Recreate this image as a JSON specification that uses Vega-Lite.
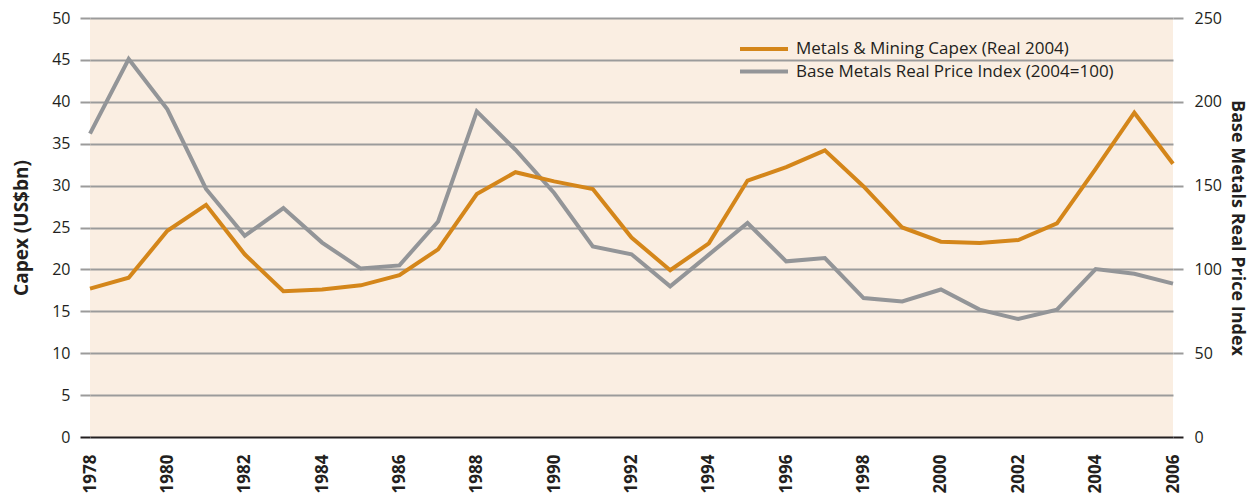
{
  "$schema": "https://vega.github.io/schema/vega-lite/v6.json",
  "width": 1083,
  "height": 419,
  "autosize": {"type": "none"},
  "padding": {"left": 90, "top": 18, "right": 77, "bottom": 59},
  "background": "white",
  "config": {
    "view": {"fill": "#faeee2", "stroke": null},
    "font": "Open Sans",
    "axis": {"labelColor": "#231f20", "titleColor": "#231f20", "labelFont": "Open Sans", "titleFont": "Open Sans"}
  },
  "data": {
    "values": [
      {"year": 1978, "capex": 17.7, "index": 181},
      {"year": 1979, "capex": 19.0, "index": 225.5},
      {"year": 1980, "capex": 24.6, "index": 195.5},
      {"year": 1981, "capex": 27.7, "index": 148},
      {"year": 1982, "capex": 21.8, "index": 120},
      {"year": 1983, "capex": 17.4, "index": 136.6},
      {"year": 1984, "capex": 17.6, "index": 116},
      {"year": 1985, "capex": 18.1, "index": 100.5},
      {"year": 1986, "capex": 19.3, "index": 102.4},
      {"year": 1987, "capex": 22.4, "index": 128.6},
      {"year": 1988, "capex": 29.0, "index": 194.3},
      {"year": 1989, "capex": 31.6, "index": 171.4},
      {"year": 1990, "capex": 30.5, "index": 145.6},
      {"year": 1991, "capex": 29.6, "index": 113.7},
      {"year": 1992, "capex": 23.8, "index": 109},
      {"year": 1993, "capex": 19.9, "index": 89.9},
      {"year": 1994, "capex": 23.1, "index": 108.8},
      {"year": 1995, "capex": 30.6, "index": 127.7},
      {"year": 1996, "capex": 32.2, "index": 104.8},
      {"year": 1997, "capex": 34.2, "index": 106.8},
      {"year": 1998, "capex": 29.9, "index": 82.9},
      {"year": 1999, "capex": 25.0, "index": 80.9},
      {"year": 2000, "capex": 23.3, "index": 88},
      {"year": 2001, "capex": 23.15, "index": 76},
      {"year": 2002, "capex": 23.5, "index": 70.4},
      {"year": 2003, "capex": 25.5, "index": 76},
      {"year": 2004, "capex": 32.0, "index": 100.2},
      {"year": 2005, "capex": 38.7, "index": 97.4},
      {"year": 2006, "capex": 32.6, "index": 91.5}
    ]
  },
  "layer": [
    {
      "mark": {"type": "line", "strokeWidth": 4},
      "encoding": {
        "x": {
          "field": "year", "type": "quantitative",
          "scale": {"domain": [1978, 2006], "nice": false, "zero": false},
          "axis": {
            "title": null, "values": [1978,1980,1982,1984,1986,1988,1990,1992,1994,1996,1998,2000,2002,2004,2006],
            "format": "d", "labelAngle": -90, "labelAlign": "right", "labelBaseline": "middle",
            "labelFontWeight": "bold", "labelFontSize": 17, "ticks": false, "tickSize": 0,
            "labelPadding": 17, "domain": false, "grid": false
          }
        },
        "y": {
          "field": "index", "type": "quantitative",
          "scale": {"domain": [0, 250], "nice": false},
          "axis": {
            "orient": "right", "title": "Base Metals Real Price Index", "titleFontSize": 18, "titleFontWeight": "bold",
            "values": [0, 50, 100, 150, 200, 250], "grid": false, "domain": false,
            "tickSize": 10, "tickWidth": 2,
            "tickColor": {"condition": {"test": "datum.value === 0", "value": "#231f20"}, "value": "#9b9b9b"},
            "labelFontSize": 16, "labelPadding": 11, "titlePadding": 6
          }
        },
        "color": {
          "datum": "Base Metals Real Price Index (2004=100)",
          "type": "nominal",
          "scale": {"domain": ["Metals & Mining Capex (Real 2004)", "Base Metals Real Price Index (2004=100)"], "range": ["#d4861a", "#939598"]},
          "legend": {
            "title": null, "orient": "none", "legendX": 648, "legendY": 21,
            "symbolType": "stroke", "symbolSize": 2304, "symbolStrokeWidth": 4,
            "clipHeight": 20,
            "labelFontSize": 17, "labelColor": "#231f20", "labelFont": "Open Sans", "labelLimit": 0,
            "rowPadding": 2.5, "labelOffset": 6
          }
        }
      }
    },
    {
      "mark": {"type": "line", "strokeWidth": 4},
      "encoding": {
        "x": {"field": "year", "type": "quantitative"},
        "y": {
          "field": "capex", "type": "quantitative",
          "scale": {"domain": [0, 50], "nice": false},
          "axis": {
            "orient": "left", "title": "Capex (US$bn)", "titleFontSize": 19, "titleFontWeight": "bold",
            "values": [0, 5, 10, 15, 20, 25, 30, 35, 40, 45, 50], "grid": true, "domain": false,
            "gridWidth": 2,
            "gridColor": {"condition": {"test": "datum.value === 0", "value": "#231f20"}, "value": "#9b9b9b"},
            "tickSize": 10, "tickWidth": 2,
            "tickColor": {"condition": {"test": "datum.value === 0", "value": "#231f20"}, "value": "#9b9b9b"},
            "labelFontSize": 16, "labelPadding": 10, "titlePadding": 20
          }
        },
        "color": {"datum": "Metals & Mining Capex (Real 2004)", "type": "nominal"}
      }
    }
  ],
  "resolve": {"scale": {"y": "independent"}}
}
